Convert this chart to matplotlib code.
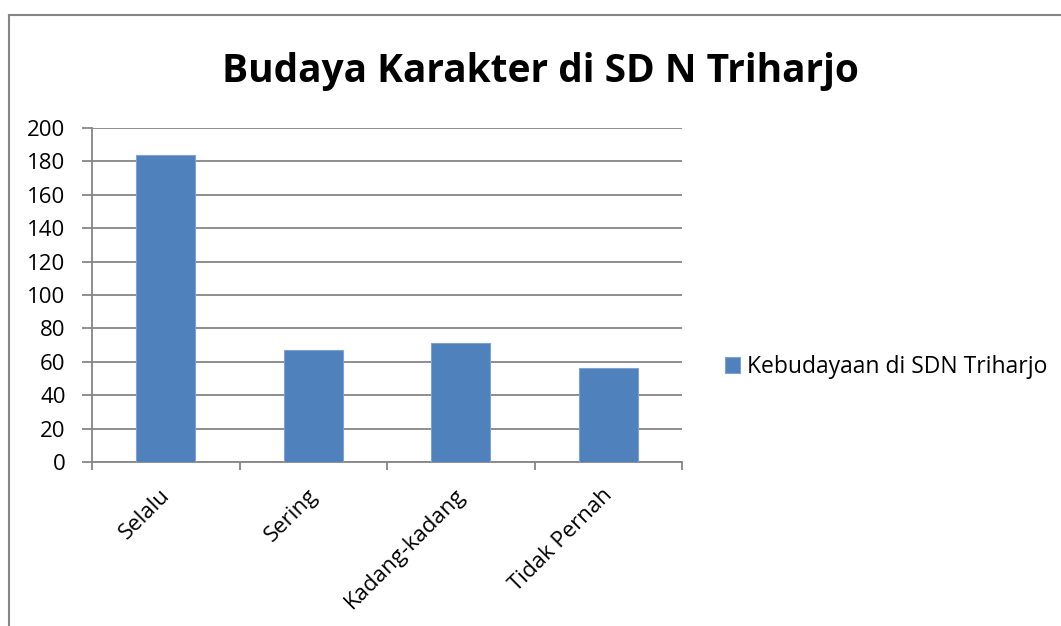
import numpy as np
import matplotlib.pyplot as plt
from matplotlib.lines import Line2D
import matplotlib.transforms as mtrans

plt.rcParams['font.family'] = ['Open Sans', 'DejaVu Sans']

# values
categories = ['Selalu', 'Sering', 'Kadang-kadang', 'Tidak Pernah']
counts = [184, 67, 71, 56]
series_name = 'Kebudayaan di SDN Triharjo'
title = 'Budaya Karakter di SD N Triharjo'
yticks = list(range(0, 201, 20))

W, H = 1061, 626
fig = plt.figure(figsize=(W / 100, H / 100), dpi=100)

# chart frame (only the top and left edges are inside the crop)
grey = '#868686'
fig.add_artist(Line2D([9 / W, 1], [1 - 15 / H, 1 - 15 / H], color=grey, lw=1.5))
fig.add_artist(Line2D([9 / W, 9 / W], [0, 1 - 15 / H], color=grey, lw=1.5))

# plot area: x 92..682, y 128..462 in pixels
ax = fig.add_axes([92 / W, 1 - 462 / H, (682 - 92) / W, (462 - 128) / H])

x = np.arange(len(categories))
bars = ax.bar(x, counts, width=0.4, color='#4f81bd', edgecolor='#7ea3d3',
              linewidth=0.8, label=series_name, zorder=3)

ax.set_xlim(-0.5, len(categories) - 0.5)
ax.set_ylim(0, 200)
ax.set_yticks(yticks)
ax.yaxis.grid(True, color=grey, lw=1.3, zorder=0)
for s in ['top', 'right']:
    ax.spines[s].set_visible(False)
for s in ['left', 'bottom']:
    ax.spines[s].set_color(grey)
    ax.spines[s].set_linewidth(1.3)

ax.tick_params(axis='y', length=7, width=1.3, color=grey, labelsize=16, pad=12)
ax.set_xticks(np.arange(len(categories) + 1) - 0.5)
ax.set_xticklabels([])
ax.tick_params(axis='x', length=6, width=1.3, color=grey, direction='out')

# category labels, rotated 45 degrees, baseline end just right of the centre
offset = mtrans.ScaledTranslation(5 / 100, -34 / 100, fig.dpi_scale_trans)
for xi, lab in zip(x, categories):
    ax.text(xi, 0, lab, rotation=45, ha='right', va='baseline',
            rotation_mode='anchor', fontsize=16,
            transform=ax.transData + offset)

fig.text(540 / W, 1 - 82 / H, title, ha='center', va='baseline',
         fontsize=28, fontweight='bold')

leg = fig.legend(handles=[bars], labels=[series_name], loc='center left',
                 bbox_to_anchor=(725 / W, 1 - 367 / H), frameon=False,
                 fontsize=16.5, handlelength=0.65, handleheight=0.65,
                 handletextpad=0.3, borderpad=0, borderaxespad=0)

fig.savefig('out.png', dpi=100)
